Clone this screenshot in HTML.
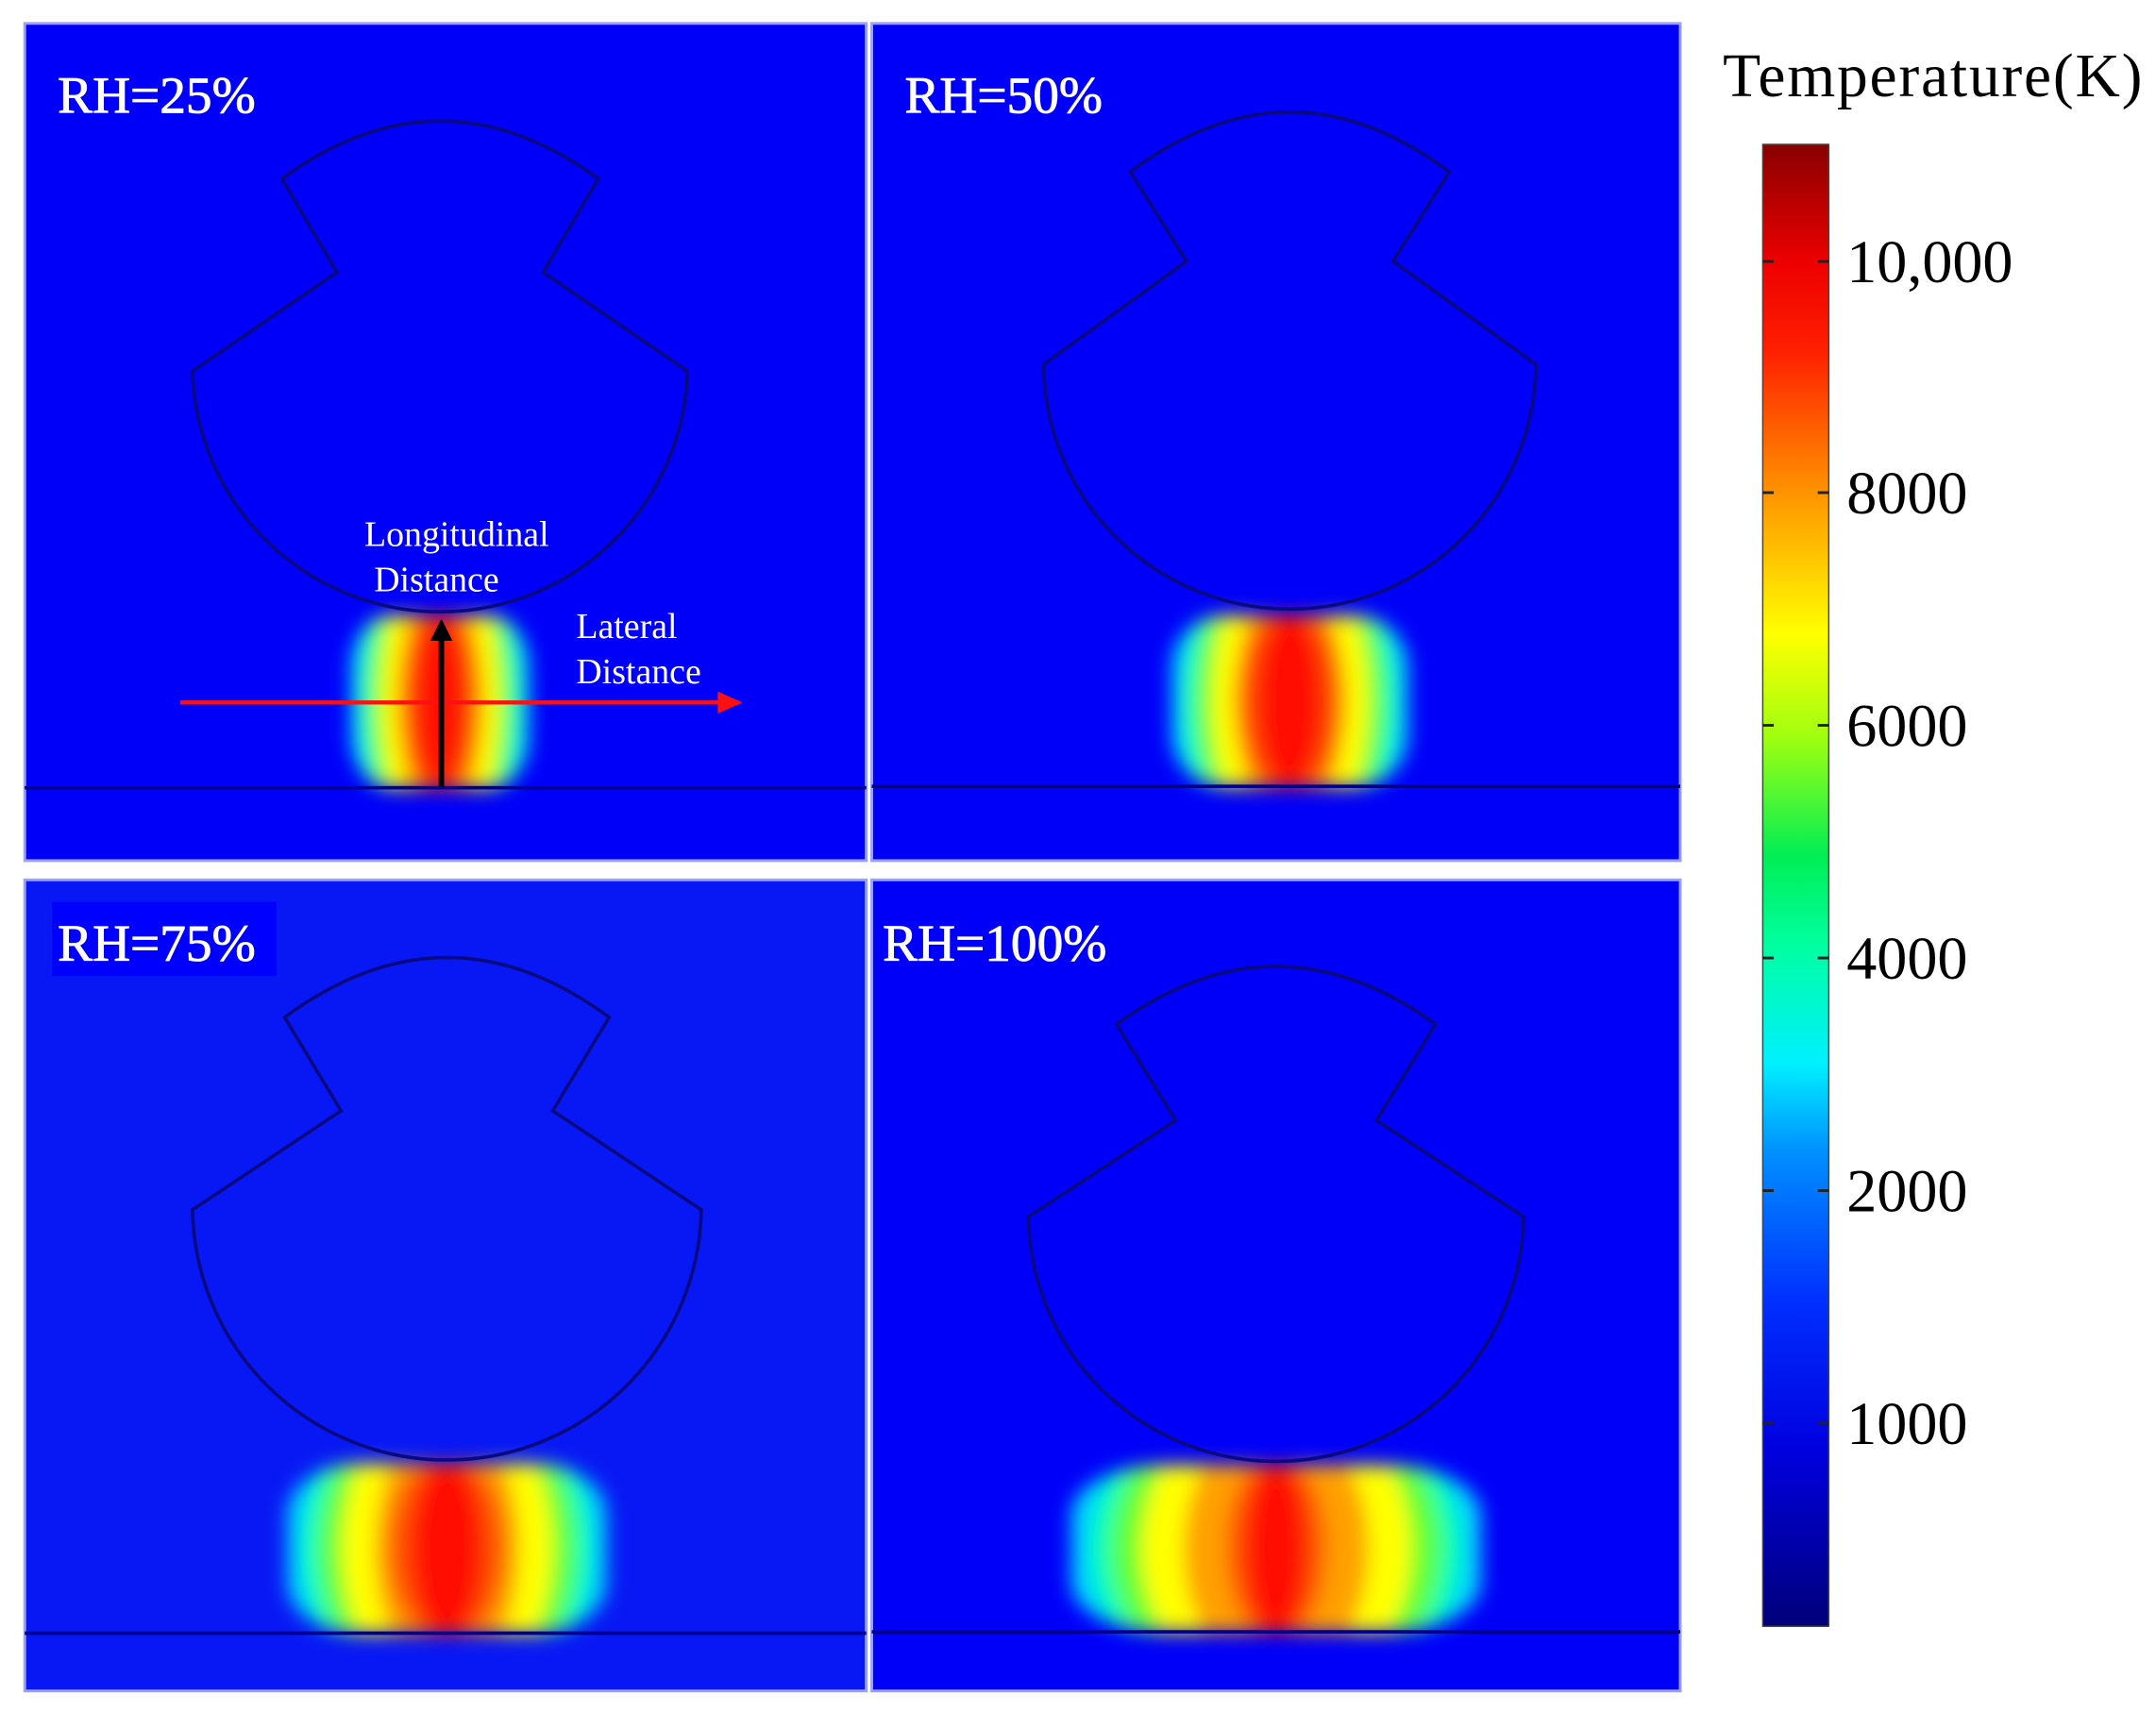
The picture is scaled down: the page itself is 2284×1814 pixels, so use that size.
<!DOCTYPE html>
<html><head><meta charset="utf-8">
<style>
html,body{margin:0;padding:0;background:#fff;}
svg{display:block;}
text{font-family:"Liberation Serif",serif;}
</style></head>
<body>
<svg id="fig" width="2284" height="1814" viewBox="0 0 1568 1245.3">
<defs>
<linearGradient id="jet" x1="0" y1="1" x2="0" y2="0">
<stop offset="0" stop-color="#00007a"/>
<stop offset="0.12" stop-color="#0000e0"/>
<stop offset="0.22" stop-color="#0030ff"/>
<stop offset="0.32" stop-color="#0090ff"/>
<stop offset="0.38" stop-color="#00f0ff"/>
<stop offset="0.46" stop-color="#00ffa0"/>
<stop offset="0.52" stop-color="#00ee55"/>
<stop offset="0.60" stop-color="#a0ff10"/>
<stop offset="0.67" stop-color="#ffff00"/>
<stop offset="0.76" stop-color="#ff9900"/>
<stop offset="0.86" stop-color="#ff2000"/>
<stop offset="0.92" stop-color="#ee0000"/>
<stop offset="1" stop-color="#880000"/>
</linearGradient>
<filter id="blur" x="-30%" y="-30%" width="160%" height="160%"><feGaussianBlur stdDeviation="7"/></filter>
<filter id="blur2" x="-30%" y="-30%" width="160%" height="160%"><feGaussianBlur stdDeviation="3"/></filter>
</defs>
<g id="panels"></g>
<g id="colorbar"></g>
</svg>
<script>
// colorbar data
const tickLabels = ["10,000","8000","6000","4000","2000","1000"];
const tickPositions01 = [0.921, 0.765, 0.608, 0.451, 0.294, 0.137]; // fraction of bar height from bottom
// panel data
const panelLabels = ["RH=25%","RH=50%","RH=75%","RH=100%"];
const plasmaWidths = [130, 172, 232, 298];       // plasma column width (display units)
const coreWidths = [18, 24, 26, 22];              // red core half width
const ns="http://www.w3.org/2000/svg";
function mk(tag, attrs, parent){const e=document.createElementNS(ns,tag);for(const k in attrs)e.setAttribute(k,attrs[k]);if(parent)parent.appendChild(e);return e;}

const panelsG=document.getElementById('panels');
const frames=[
 {x:18,y:17,w:612,h:609,cx:320,top:88,arcY:130,arcHalf:115,notchY:198,notchHalf:75,wideY:270,wideHalf:180,bot:445,base:573,bg:"#0000f8"},
 {x:634,y:17,w:588,h:609,cx:938,top:80,arcY:125,arcHalf:116,notchY:190,notchHalf:75,wideY:265,wideHalf:179,bot:445,base:572,bg:"#0000f8"},
 {x:18,y:640,w:612,h:590,cx:325,top:695,arcY:740,arcHalf:118,notchY:808,notchHalf:77,wideY:880,wideHalf:185,bot:1062,base:1188,bg:"#0818f4"},
 {x:634,y:640,w:588,h:590,cx:928,top:703,arcY:745,arcHalf:116,notchY:815,notchHalf:73,wideY:885,wideHalf:180,bot:1063,base:1187,bg:"#0000f8"}
];
frames.forEach((f,i)=>{
  const g=mk('g',{},panelsG);
  
  
  mk('rect',{x:f.x,y:f.y,width:f.w,height:f.h,fill:f.bg,stroke:"#9aa0ff","stroke-width":2},g);
  const clipId='clip'+i;
  const cp=mk('clipPath',{id:clipId},g);
  const W=plasmaWidths[i], C=coreWidths[i];
  const pTop=f.bot+3, pBot=f.base;
  const H=pBot-pTop, my=(pTop+pBot)/2;
  mk('rect',{x:f.cx-W/2,y:pTop,width:W,height:H,rx:W*0.22,ry:H*0.3},cp);
  const outer=mk('g',{filter:'url(#blur)'},g);
  
  
  const pg=mk('g',{'clip-path':'url(#'+clipId+')'},outer);
  mk('rect',{x:f.cx-W/2,y:pTop,width:W,height:H,fill:"#00d8ff"},pg);
  const layers=[[W/2*0.9,"#00ffb0",1.0],[W/2*0.8,"#60ff30",0.95],[W/2*0.66,"#ffff00",0.9],[W/2*0.45,"#ffa000",0.8]];
  layers.forEach(L=>{mk('ellipse',{cx:f.cx,cy:my,rx:L[0],ry:H*L[2],fill:L[1]},pg);});
  const core=mk('g',{filter:'url(#blur2)'},pg);
  mk('ellipse',{cx:f.cx,cy:my,rx:C*1.6,ry:H*0.56,fill:"#ff5000"},core);
  mk('ellipse',{cx:f.cx,cy:my,rx:C,ry:H*0.54,fill:"#ff0a00"},core);
  // shape outline
  const h=f.bot-f.wideY, r=(f.wideHalf*f.wideHalf+h*h)/(2*h);
  const d=`M${f.cx-f.arcHalf},${f.arcY} Q${f.cx},${f.top-42} ${f.cx+f.arcHalf},${f.arcY} L${f.cx+f.notchHalf},${f.notchY} L${f.cx+f.wideHalf},${f.wideY} A${r},${r} 0 0 1 ${f.cx-f.wideHalf},${f.wideY} L${f.cx-f.notchHalf},${f.notchY} Z`;
  const s=mk('path',{d:d,fill:"none",stroke:"#0a0a80","stroke-width":2.5},g);
  
  
  const bl=mk('line',{x1:f.x,y1:f.base,x2:f.x+f.w,y2:f.base,stroke:"#00008a","stroke-width":2.5},g);
  
  
  if(i==2){mk('rect',{x:38,y:656,width:163,height:54,fill:"#0000ff"},g);}
  const t=mk('text',{x:f.x+(i==3?8:24),y:f.y+(i>=2?59:65),fill:"#fff","font-size":38,stroke:"#fff","stroke-width":0.6},g);
  t.textContent=panelLabels[i];
  
  
});
// annotations in panel 1
const ann=mk('g',{},panelsG);


mk('line',{x1:131,y1:511,x2:528,y2:511,stroke:"#ff1010","stroke-width":3},ann);
mk('polygon',{points:"540,511 522,503 522,519",fill:"#ff1010"},ann);
mk('line',{x1:321,y1:572,x2:321,y2:462,stroke:"#000","stroke-width":4},ann);
mk('polygon',{points:"321,450 313,466 329,466",fill:"#000"},ann);
[["Longitudinal",265,397],["Distance",272,430],["Lateral",419,464],["Distance",419,497]].forEach(a=>{
  const t=mk('text',{x:a[1],y:a[2],fill:"#fff","font-size":26},ann);t.textContent=a[0];
  
  
});
// colorbar
const cb=document.getElementById('colorbar');


const bx=1282,by=105,bw=48,bh=1078;
mk('rect',{x:bx,y:by,width:bw,height:bh,fill:"url(#jet)",stroke:"#444","stroke-width":1},cb);
const title=mk('text',{x:1253,y:70,fill:"#000","font-size":45,textLength:305},cb);
title.textContent="Temperature(K)";


tickLabels.forEach((lab,k)=>{
  const y=by+bh*(1-tickPositions01[k]);
  mk('line',{x1:bx,y1:y,x2:bx+8,y2:y,stroke:"#222","stroke-width":2},cb);
  mk('line',{x1:bx+bw-8,y1:y,x2:bx+bw,y2:y,stroke:"#222","stroke-width":2},cb);
  const t=mk('text',{x:1343,y:y+15,fill:"#000","font-size":44},cb);
  t.textContent=lab;
  
  
});
</script>
</body></html>
